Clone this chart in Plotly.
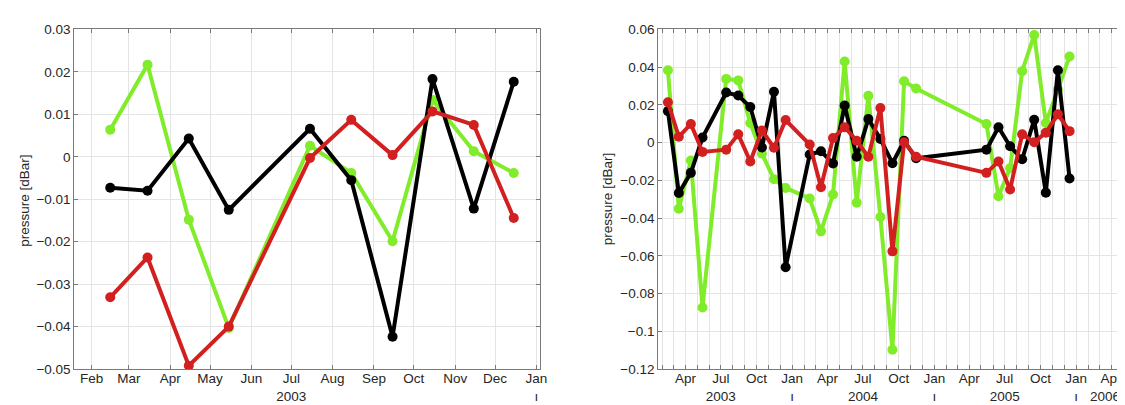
import plotly.graph_objects as go

# ---------------- data ----------------
left_dates = ["2003-02-15", "2003-03-15", "2003-04-15", "2003-05-15", "2003-07-15",
              "2003-08-15", "2003-09-15", "2003-10-15", "2003-11-15", "2003-12-15"]
left_black = [-0.0073, -0.0080, 0.0043, -0.0125, 0.0066, -0.0055, -0.0424, 0.0183, -0.0122, 0.0177]
left_green = [0.0064, 0.0217, -0.0148, -0.0403, 0.0026, -0.0038, -0.0199, 0.0134, 0.0013, -0.0038]
left_red = [-0.0331, -0.0237, -0.0492, -0.0400, -0.0003, 0.0087, 0.0004, 0.0107, 0.0075, -0.0144]

right_dates = ["2003-02-15", "2003-03-15", "2003-04-15", "2003-05-15", "2003-07-15",
               "2003-08-15", "2003-09-15", "2003-10-15", "2003-11-15", "2003-12-15",
               "2004-02-15", "2004-03-15", "2004-04-15", "2004-05-15", "2004-06-15",
               "2004-07-15", "2004-08-15", "2004-09-15", "2004-10-15", "2004-11-15",
               "2005-05-15", "2005-06-15", "2005-07-15", "2005-08-15", "2005-09-15",
               "2005-10-15", "2005-11-15", "2005-12-15"]
right_black = [0.0167, -0.0267, -0.0160, 0.0027, 0.0266, 0.0250, 0.0189, -0.0026, 0.0270, -0.0660,
               -0.0063, -0.0046, -0.0110, 0.0197, -0.0075, 0.0125, 0.0019, -0.0109, 0.0010, -0.0083,
               -0.0037, 0.0082, -0.0019, -0.0088, 0.0121, -0.0265, 0.0384, -0.0190]
right_green = [0.0384, -0.0350, -0.0095, -0.0874, 0.0338, 0.0330, 0.0104, -0.0058, -0.0194, -0.0240,
               -0.0296, -0.0470, -0.0275, 0.0430, -0.0318, 0.0248, -0.0394, -0.1098, 0.0325, 0.0287,
               0.0099, -0.0284, -0.0135, 0.0379, 0.0571, 0.0104, 0.0282, 0.0457]
right_red = [0.0214, 0.0031, 0.0099, -0.0049, -0.0037, 0.0044, -0.0100, 0.0065, -0.0027, 0.0120,
             -0.0010, -0.0236, 0.0024, 0.0082, 0.0010, -0.0075, 0.0184, -0.0576, 0.0002, -0.0075,
             -0.0160, -0.0100, -0.0248, 0.0044, 0.0002, 0.0053, 0.0150, 0.0061]

left_tickvals = ["2003-02-01", "2003-03-01", "2003-04-01", "2003-05-01", "2003-06-01", "2003-07-01",
                 "2003-08-01", "2003-09-01", "2003-10-01", "2003-11-01", "2003-12-01", "2004-01-01"]
left_ticktext = ["Feb", "Mar", "Apr", "May", "Jun", "Jul<br>2003", "Aug", "Sep", "Oct", "Nov", "Dec",
                 "Jan<br>ı"]

right_tickvals = ["2003-04-01", "2003-07-01", "2003-10-01", "2004-01-01", "2004-04-01", "2004-07-01",
                  "2004-10-01", "2005-01-01", "2005-04-01", "2005-07-01", "2005-10-01", "2006-01-01",
                  "2006-04-01"]
right_ticktext = ["Apr", "Jul<br>2003", "Oct", "Jan<br>ı", "Apr", "Jul<br>2004", "Oct", "Jan<br>ı",
                  "Apr", "Jul<br>2005", "Oct", "Jan<br>ı", "Apr"]
right_last_year = "2006"

y_title = "pressure [dBar]"

# ---------------- style ----------------
GREEN = "#80ec2a"
BLACK = "#000000"
RED = "#d21f1f"
FONT = "Liberation Sans, Arial, Helvetica, sans-serif"
TXT = "#262626"
AXC = "#7a7a7a"
GRID = "#e4e4e4"
FS = 13.5

fig = go.Figure()


def add_series(x, y, color, xa, ya):
    fig.add_trace(go.Scatter(
        x=x, y=y, mode="lines+markers", xaxis=xa, yaxis=ya,
        line=dict(color=color, width=4),
        marker=dict(color=color, size=10),
        showlegend=False, hoverinfo="skip"))


add_series(left_dates, left_green, GREEN, "x", "y")
add_series(left_dates, left_black, BLACK, "x", "y")
add_series(left_dates, left_red, RED, "x", "y")
add_series(right_dates, right_green, GREEN, "x2", "y2")
add_series(right_dates, right_black, BLACK, "x2", "y2")
add_series(right_dates, right_red, RED, "x2", "y2")

W, H = 1125, 405
top_px, bot_px = 15, 367.7
ydom = [(H - bot_px) / H, (H - top_px) / H]

common_axis = dict(showline=True, linecolor=AXC, linewidth=1, mirror="allticks",
                   ticks="inside", ticklen=4, tickcolor=AXC, showgrid=True,
                   gridcolor=GRID, gridwidth=1, zeroline=False,
                   tickfont=dict(family=FONT, size=FS, color=TXT))

fig.update_layout(
    width=W, height=H,
    margin=dict(l=0, r=0, t=0, b=0),
    paper_bgcolor="white", plot_bgcolor="white",
    xaxis=dict(domain=[66.7 / W, 535.7 / W], type="date",
               range=["2003-01-19", "2004-01-04"],
               tickmode="array", tickvals=left_tickvals, ticktext=left_ticktext,
               ticklabelstandoff=-3, anchor="y", **common_axis),
    yaxis=dict(domain=ydom, range=[-0.05, 0.03], dtick=0.01, tick0=0,
               anchor="x", **common_axis),
    xaxis2=dict(domain=[654.3 / W, 1123.3 / W], type="date",
                range=["2003-01-21", "2006-05-05"],
                tickmode="array", tickvals=right_tickvals, ticktext=right_ticktext,
                ticklabelstandoff=-3,
                minor=dict(dtick="M1", tick0="2003-01-01", ticks="inside", ticklen=4,
                           tickcolor=AXC, showgrid=True, gridcolor=GRID, gridwidth=1),
                anchor="y2", **common_axis),
    yaxis2=dict(domain=ydom, range=[-0.12, 0.06], dtick=0.02, tick0=0,
                anchor="x2", **common_axis),
)

fig.add_annotation(text=y_title, x=16.7 / W, y=(H - 193.3) / H, xref="paper", yref="paper",
                   textangle=-90, showarrow=False, xanchor="center", yanchor="middle",
                   font=dict(family=FONT, size=13.5, color=TXT))
fig.add_annotation(text=y_title, x=603.3 / W, y=(H - 191.7) / H, xref="paper", yref="paper",
                   textangle=-90, showarrow=False, xanchor="center", yanchor="middle",
                   font=dict(family=FONT, size=13.5, color=TXT))
# year label of the last (partial) year, shifted left so that it fits, as in the original
fig.add_annotation(text=right_last_year, x=1121 / W, y=(H - 396.5) / H, xref="paper", yref="paper",
                   showarrow=False, xanchor="right", yanchor="middle",
                   font=dict(family=FONT, size=FS, color=TXT))

fig.write_html("out.html")
